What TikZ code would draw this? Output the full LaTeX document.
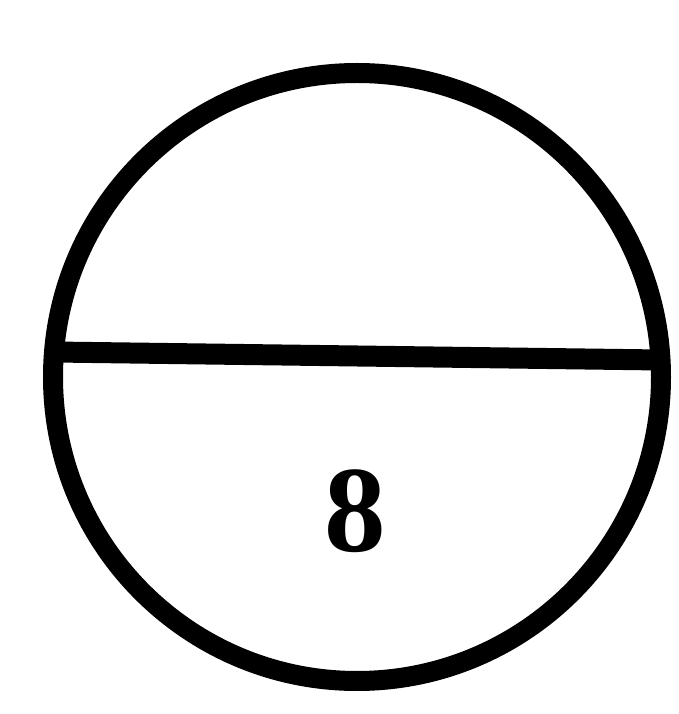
\documentclass[tikz,border=0pt]{standalone}
\usepackage{fontspec}
\setmainfont{Liberation Serif}
\usetikzlibrary{calc}

\begin{document}
\begin{tikzpicture}[
  % ── Styles ─────────────────────────────────
  ring/.style  = {draw, circle, line width=4mm, inner sep=0pt,
                  minimum size=12.16cm},
  bar/.style   = {line width=4.2mm},
  digit/.style = {font=\fontsize{70}{70}\selectfont\bfseries},
]
\useasboundingbox (0,0) rectangle (13.58,14.28);

%% ── Circle and its dividing line ──────────
\node[ring] (ring) at (7.14,6.74) {};
\coordinate (bar-l) at (1.08,7.24);
\coordinate (bar-r) at (13.21,7.08);
\draw[bar] (bar-l) -- (bar-r);

%% ── Label in the lower half ───────────────
\node[digit] (num) at (7.10,4.06) {8};

\end{tikzpicture}
\end{document}
